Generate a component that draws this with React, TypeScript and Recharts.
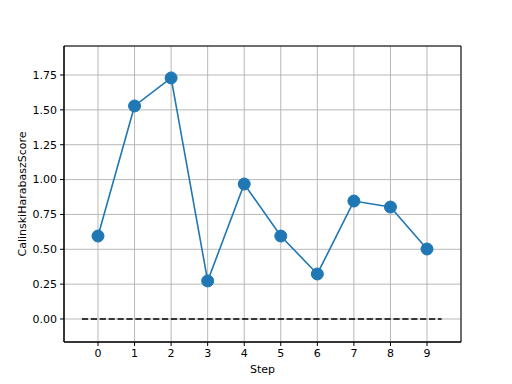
import { LineChart, Line, XAxis, YAxis, CartesianGrid, ReferenceArea } from 'recharts';

const STEPS = [0, 1, 2, 3, 4, 5, 6, 7, 8, 9];
const SCORES = [0.595, 1.528, 1.729, 0.273, 0.968, 0.595, 0.323, 0.846, 0.803, 0.502];
const Y_TICKS = [0, 0.25, 0.5, 0.75, 1.0, 1.25, 1.5, 1.75];
const BASELINE_X = [-0.44, 9.4];
const X_DOMAIN = [-0.93, 9.93];
const Y_DOMAIN = [-0.165, 1.958];

const data = STEPS.map((s, i) => ({ step: s, score: SCORES[i] }));
const baseline = BASELINE_X.map((x) => ({ step: x, zero: 0 }));

const FONT = 'DejaVu Sans';
const tickStyle = { fontSize: 11, fill: '#000', fontFamily: FONT };

export default function App() {
  return (
    <div style={{ position: 'fixed', left: 0, top: 0, width: 512, height: 384, background: '#fff' }}>
      <LineChart width={512} height={384} margin={{ top: 46, right: 51, left: 0, bottom: 0 }}>
        <CartesianGrid stroke="#b0b0b0" strokeWidth={0.9} />
        <XAxis
          dataKey="step"
          type="number"
          domain={X_DOMAIN}
          ticks={STEPS}
          allowDataOverflow
          height={42}
          tickSize={4}
          tickMargin={3}
          tick={tickStyle}
          stroke="#000"
          tickLine={{ stroke: '#000' }}
          label={{ value: 'Step', position: 'insideBottom', offset: 11, fontSize: 11, fill: '#000', fontFamily: FONT }}
        />
        <YAxis
          type="number"
          domain={Y_DOMAIN}
          ticks={Y_TICKS}
          allowDataOverflow
          width={64}
          tickSize={4}
          tickMargin={3}
          tick={tickStyle}
          stroke="#000"
          tickLine={{ stroke: '#000' }}
          tickFormatter={(v: number) => v.toFixed(2)}
          label={{ value: 'CalinskiHarabaszScore', angle: -90, position: 'center', dx: -10, fontSize: 11, fill: '#000', fontFamily: FONT }}
        />
        <ReferenceArea
          x1={X_DOMAIN[0]}
          x2={X_DOMAIN[1]}
          y1={Y_DOMAIN[0]}
          y2={Y_DOMAIN[1]}
          fill="none"
          fillOpacity={0}
          stroke="#000"
          strokeOpacity={1}
          strokeWidth={1}
          ifOverflow="visible"
        />
        <Line
          data={baseline}
          dataKey="zero"
          stroke="#000"
          strokeWidth={1.6}
          strokeDasharray="6.2 2.7"
          dot={false}
          isAnimationActive={false}
        />
        <Line
          data={data}
          dataKey="score"
          stroke="#1f77b4"
          strokeWidth={1.6}
          dot={{ r: 6, fill: '#1f77b4', stroke: '#1f77b4', strokeWidth: 1 }}
          isAnimationActive={false}
        />
      </LineChart>
    </div>
  );
}
